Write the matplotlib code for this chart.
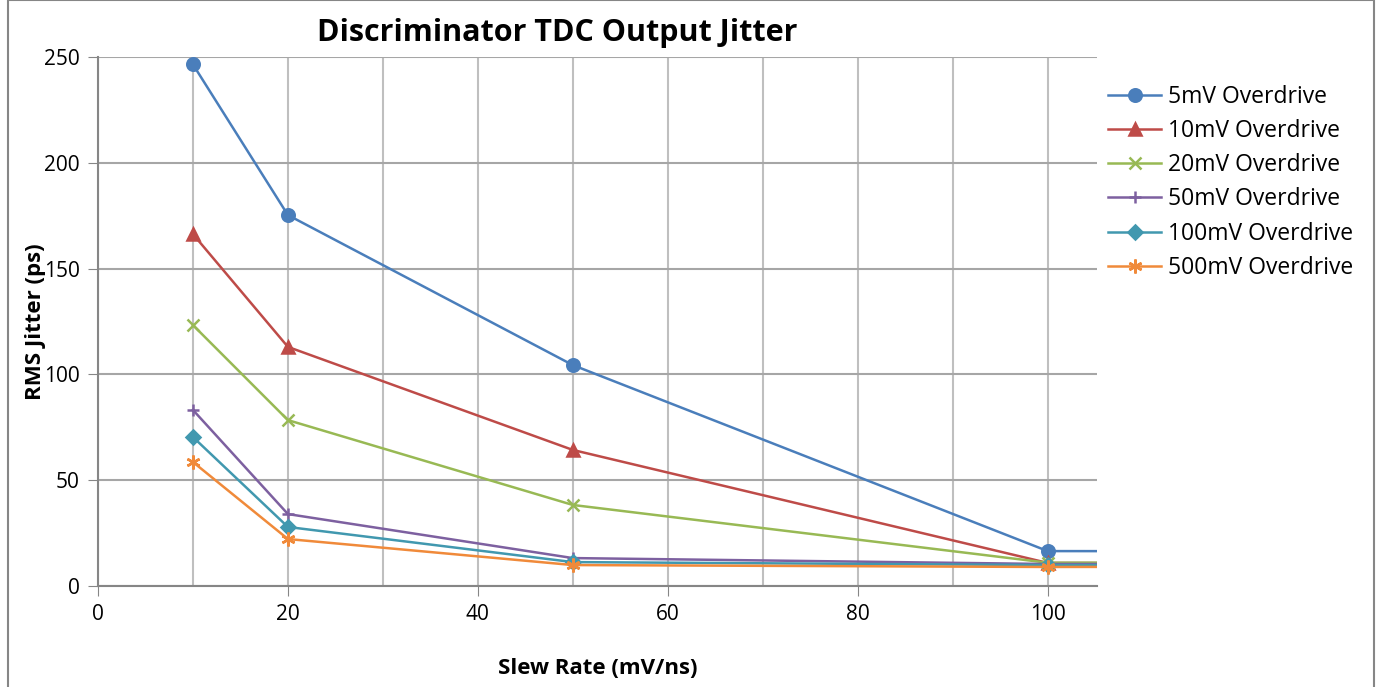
import matplotlib
matplotlib.use("Agg")
import matplotlib.pyplot as plt
from matplotlib.patches import Rectangle

# slew rate (mV/ns); last point lies off the visible axis range
slew_rate = [10, 20, 50, 100, 200]

jitter_5mv = [246.5, 175.3, 104.4, 16.5, 16.2]
jitter_10mv = [166.3, 113.0, 64.3, 10.9, 10.6]
jitter_20mv = [123.3, 78.4, 38.3, 11.0, 11.3]
jitter_50mv = [83.2, 34.0, 13.2, 10.4, 10.4]
jitter_100mv = [70.4, 27.9, 11.3, 9.9, 9.9]
jitter_500mv = [58.6, 22.2, 9.9, 9.0, 9.5]

labels = ["5mV Overdrive", "10mV Overdrive", "20mV Overdrive",
          "50mV Overdrive", "100mV Overdrive", "500mV Overdrive"]
series = [jitter_5mv, jitter_10mv, jitter_20mv, jitter_50mv, jitter_100mv, jitter_500mv]
colors = ["#4A7EBB", "#BE4B48", "#98B954", "#7D60A0", "#4198AF", "#F08A3A"]
markers = ["o", "^", "x", "+", "D", (6, 2, 0)]
msizes = [9, 9, 8, 9, 7, 10]

plt.rcParams['font.family'] = ['Open Sans', 'DejaVu Sans']

fig = plt.figure(figsize=(13.8, 6.87), dpi=100)
ax = fig.add_axes([0.071, 0.147, 0.724, 0.77])

for y, lab, c, m, ms in zip(series, labels, colors, markers, msizes):
    ax.plot(slew_rate, y, color=c, lw=1.8, marker=m, ms=ms, mew=1.8,
            label=lab, clip_on=True, zorder=3)

ax.set_xlim(0, 105.2)
ax.set_ylim(0, 250)
ax.set_xticks(range(0, 101, 20))
ax.set_xticks(range(10, 101, 10), minor=True)
ax.set_yticks(range(0, 251, 50))
ax.tick_params(axis='x', which='minor', length=0)
ax.tick_params(axis='both', which='major', labelsize=15, length=7,
               color="#868686", direction='out', pad=6)
ax.grid(True, which='both', axis='x', color="#BFBFBF", lw=1.5)
ax.grid(True, which='major', axis='y', color="#A6A6A6", lw=1.5)
ax.set_axisbelow(True)

for s in ['top', 'right']:
    ax.spines[s].set_visible(False)
for s in ['left', 'bottom']:
    ax.spines[s].set_color("#868686")
    ax.spines[s].set_linewidth(1.5)

ax.set_xlabel("Slew Rate (mV/ns)", fontsize=16, fontweight='bold')
ax.xaxis.set_label_coords(0.5, -0.137)
ax.set_ylabel("RMS Jitter (ps)", fontsize=16, fontweight='bold')
ax.yaxis.set_label_coords(-0.052, 0.5)
fig.text(0.404, 0.952, "Discriminator TDC Output Jitter", fontsize=22,
         fontweight='bold', ha='center', va='center')

ax.legend(loc='upper left', bbox_to_anchor=(0.995, 0.977), frameon=False,
          fontsize=16.5, handlelength=2.3, labelspacing=0.44, handletextpad=0.3,
          borderaxespad=0.3)

fig.patches.append(Rectangle((0.006, -0.01), 0.99, 1.01, transform=fig.transFigure,
                             fill=False, edgecolor="#868686", lw=1.5))

fig.savefig("out.png", dpi=100)
